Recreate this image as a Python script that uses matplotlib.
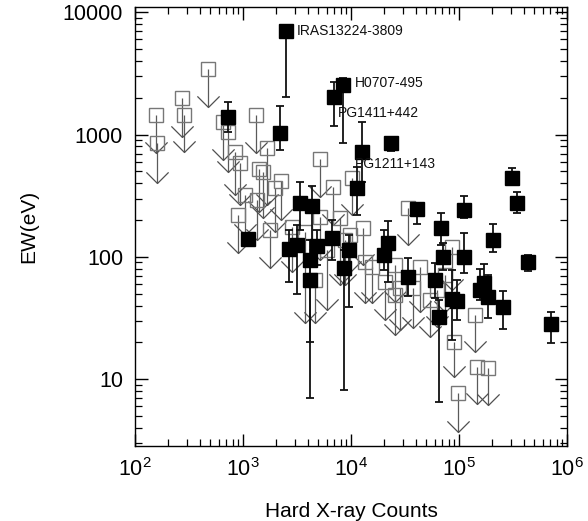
import numpy as np
import matplotlib
matplotlib.use('Agg')
import matplotlib.pyplot as plt
from matplotlib.path import Path
from matplotlib.ticker import FixedLocator, FuncFormatter, NullFormatter, LogLocator

plt.rcParams['font.family'] = ['Liberation Sans', 'DejaVu Sans']
plt.rcParams['mathtext.fontset'] = 'custom'
plt.rcParams['mathtext.rm'] = 'Liberation Sans'
plt.rcParams['mathtext.it'] = 'Liberation Sans:italic'

# ---- detections (filled squares with error bars) ----
det_counts = [2500, 8430, 6970, 12650, 23400, 310000, 344000, 40800, 68100, 111000,
              206000, 436000, 711000, 71100, 111000, 156000, 170000, 186000, 255000, 60000,
              65300, 86100, 95700, 33700, 22000, 20200, 11400, 9580, 8610, 6670,
              4840, 4170, 4170, 3160, 2670, 3370, 4350, 1110, 2200, 726]
det_ew = [7030, 2550, 2030, 721, 853, 442, 276, 246, 172, 242,
          137, 90.8, 28.2, 99.8, 100, 53.6, 61.2, 47.0, 38.9, 64.7,
          32.3, 45.3, 43.6, 68.5, 130, 104, 366, 114, 81.1, 143,
          123, 94.4, 64.7, 125, 116, 276, 261, 140, 1030, 1390]
det_ew_hi = [7870, 2900, 2690, 1268, 955, 533, 340, 266, 229, 315,
             186, 104, 35.4, 130, 157, 79.6, 87.4, 71.1, 52.6, 89.1,
             44.5, 78.2, 64.7, 98, 197, 166, 543, 151, 114, 200,
             166, 137, 90.8, 182, 166, 410, 380, 150, 1710, 1850]
det_ew_lo = [2030, 853, 1175, 410, 734, 395, 229, 186, 125, 208,
             110, 76.7, 19.8, 78.2, 73.9, 44.5, 48.9, 31.6, 25.7, 46.1,
             6.52, 20.9, 30.5, 47.9, 62.4, 78.2, 220, 38.9, 8.17, 94.4,
             85.9, 20.1, 7.02, 49.8, 62.4, 166, 137, 130, 748, 1050]

# ---- upper limits (open squares with downward arrows) ----
ul_counts = [156, 160, 272, 284, 474, 653, 726, 843, 938, 1320,
             1670, 1406, 1530, 2250, 5160, 6810, 10200, 12900, 33700, 899,
             1350, 1980, 2840, 5160, 7910, 3750, 6000, 13500, 15600, 28400,
             37500, 43500, 86100, 141000, 89900, 147000, 186000, 97900, 53800, 62500,
             8790, 4640, 20600, 25500, 1040, 1780, 25500, 74100, 9790]
ul_ew = [1445, 853, 1990, 1445, 3440, 1268, 1050, 721, 586, 1445,
         777, 524, 494, 418, 631, 373, 442, 172, 251, 220,
         292, 366, 175, 212, 208, 160, 114, 90.8, 82.6, 55.7,
         55.7, 82.6, 121, 33.5, 20.1, 12.6, 12.4, 7.71, 44.5, 53.6,
         137, 64.7, 62.4, 48.9, 321, 166, 85.9, 71.1, 151]
ul_tip = [708, 402, 955, 721, 1680, 619, 494, 321, 266, 708,
          266, 233, 208, 200, 309, 182, 220, 85.9, 125, 108,
          137, 160, 75.2, 94.4, 58.9, 28.8, 36.8, 42.0, 42.0, 25.2,
          26.2, 35.4, 53.6, 16.7, 10.4, 6.27, 6.15, 3.70, 22.1, 26.7,
          58.9, 28.8, 30.5, 23.0, 151, 81.1, 42.8, 35.4, 75.2]

labels = ['IRAS13224-3809', 'H0707-495', 'PG1411+442', 'PG1211+143']
label_x = [3160, 10900, 7590, 10900]
label_y = [7030, 2640, 1500, 575]

xlim = (1e2, 1e6)
ylim = (2.84, 11050)
yticks = [10, 100, 1000, 10000]

fig = plt.figure(figsize=(5.88, 5.21), dpi=100)
ax = fig.add_axes([135 / 588, 1 - 446 / 521, 432 / 588, 439 / 521])
ax.set_xscale('log')
ax.set_yscale('log')

# chevron arrow head marker, tip at the data point
chevron = Path([(-1, 1), (0, 0), (1, 1)], [Path.MOVETO, Path.LINETO, Path.LINETO])

ax.vlines(ul_counts, ul_tip, ul_ew, colors='#5a5a5a', lw=0.9, zorder=2)
ax.plot(ul_counts, ul_tip, ls='none', marker=chevron, ms=16, mfc='none',
        mec='#505050', mew=0.9, zorder=2)
ax.plot(ul_counts, ul_ew, ls='none', marker='s', ms=9.5, mfc='none',
        mec='#777777', mew=1.0, zorder=3)

det_ew_a = np.array(det_ew)
yerr = [det_ew_a - np.array(det_ew_lo), np.array(det_ew_hi) - det_ew_a]
ax.errorbar(det_counts, det_ew, yerr=yerr, fmt='s', ms=10, color='black',
            mfc='black', mec='black', ecolor='#111111', elinewidth=1.3,
            capsize=3, capthick=1.3, zorder=5)

for t, lx, ly in zip(labels, label_x, label_y):
    ax.text(lx, ly, t, fontsize=10, ha='left', va='center', color='#111111', zorder=6)

ax.set_xlim(*xlim)
ax.set_ylim(*ylim)
ax.yaxis.set_major_locator(FixedLocator(yticks))
ax.yaxis.set_major_formatter(FuncFormatter(lambda v, p: f'{int(round(v))}'))
ax.yaxis.set_minor_locator(LogLocator(base=10, subs=np.arange(2, 10), numticks=20))
ax.yaxis.set_minor_formatter(NullFormatter())
ax.xaxis.set_minor_locator(LogLocator(base=10, subs=np.arange(2, 10), numticks=20))
ax.xaxis.set_minor_formatter(NullFormatter())

ax.tick_params(which='both', direction='in', top=True, right=True,
               labelsize=15.5, pad=8.6, color='black')
ax.tick_params(which='major', length=9, width=1)
ax.tick_params(which='minor', length=5, width=0.9)
for s in ax.spines.values():
    s.set_linewidth(1.0)

ax.set_xlabel('Hard X-ray Counts', fontsize=15)
ax.set_ylabel('EW(eV)', fontsize=15)
ax.xaxis.set_label_coords(0.5, -0.1276)
ax.yaxis.set_label_coords(-0.2245, 0.5)

fig.savefig('out.png', dpi=100)
